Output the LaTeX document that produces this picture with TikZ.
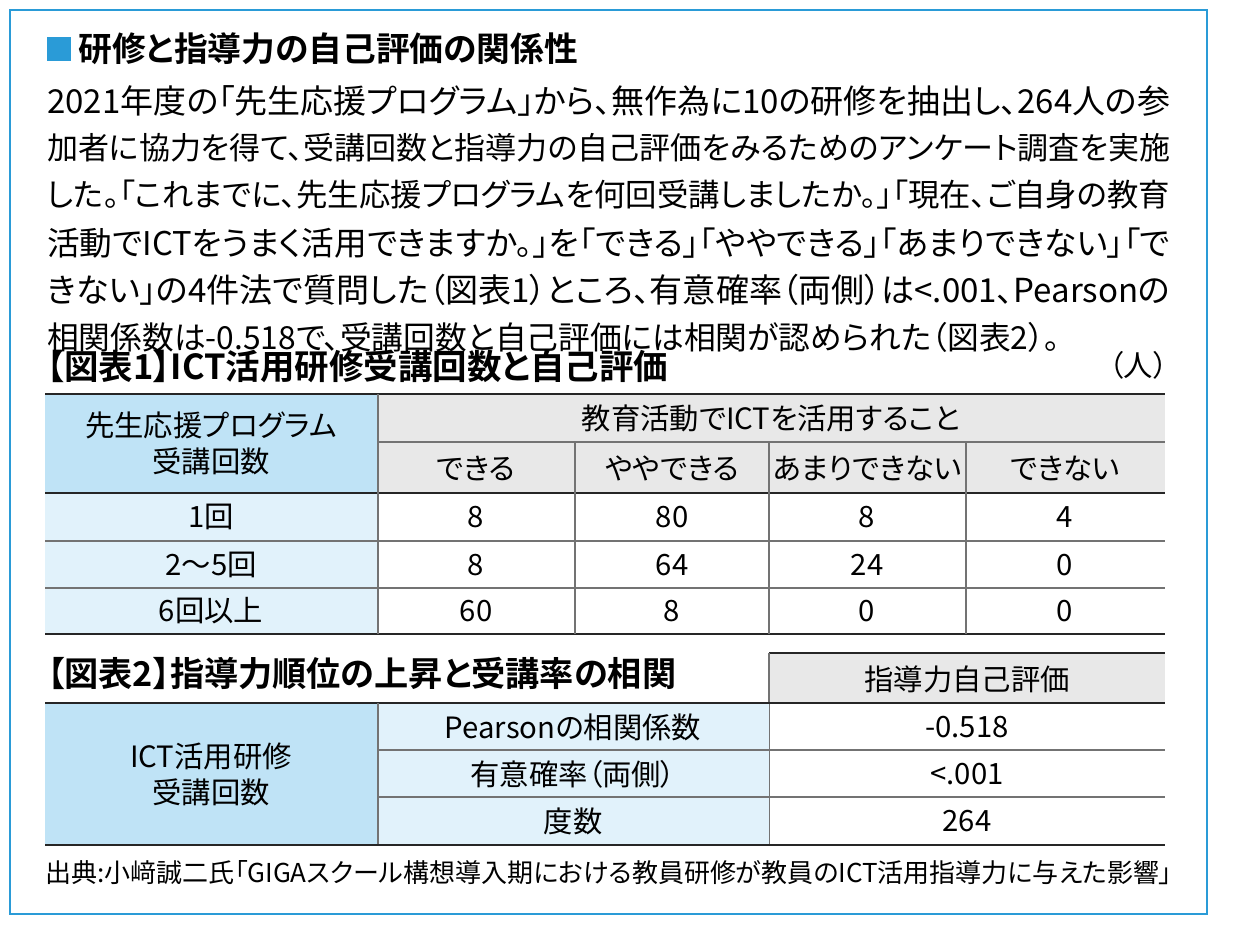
\documentclass[tikz,border=0pt]{standalone}
\usepackage{graphicx}
\usepackage{fontspec}
\setmainfont{Noto Sans CJK JP}[RawFeature=+palt]
\newfontfamily\jpb{Noto Sans CJK JP Bold}[RawFeature=+palt]
\definecolor{frame}{HTML}{2A9BD7}
\definecolor{hdblue}{HTML}{BFE3F6}
\definecolor{ltblue}{HTML}{E1F2FB}
\definecolor{hdgray}{HTML}{E8E8E8}
\newlength{\fitlen}
\newcommand{\fitw}[2]{\setlength{\fitlen}{#1pt}\setlength{\fitlen}{0.75\fitlen}\resizebox{\fitlen}{!}{#2}}
\begin{document}
\begin{tikzpicture}[x=0.75pt,y=-0.75pt,
  body/.style={anchor=west,inner sep=0,font=\fontsize{24}{28}\selectfont},
  cell/.style={inner sep=0,font=\fontsize{22}{27}\selectfont,align=center},
  ttl/.style={anchor=west,inner sep=0,font=\jpb\fontsize{23}{28}\selectfont},
  thin/.style={draw=black!55,line width=0.8pt},
  thick/.style={draw=black!85,line width=1.6pt}]
\useasboundingbox (0,0) rectangle (1247,936);
\draw[frame,line width=1.2pt] (10,10) rectangle (1207,914);
\fill[frame] (47,37) rectangle (71,61);
\node[ttl] (t0) at (78,49) {\fitw{500}{研修と指導力の自己評価の関係性}};
\node[body] (l1) at (47,101) {\fitw{1123}{2021年度の「先生応援プログラム」から、無作為に10の研修を抽出し、264人の参}};
\node[body] (l2) at (47,148) {\fitw{1123}{加者に協力を得て、受講回数と指導力の自己評価をみるためのアンケート調査を実施}};
\node[body] (l3) at (47,195) {\fitw{1123}{した。「これまでに、先生応援プログラムを何回受講しましたか。」「現在、ご自身の教育}};
\node[body] (l4) at (47,243) {\fitw{1123}{活動でICTをうまく活用できますか。」を「できる」「ややできる」「あまりできない」「で}};
\node[body] (l5) at (47,290) {\fitw{1123}{きない」の4件法で質問した（図表1）ところ、有意確率（両側）は<.001、Pearsonの}};
\node[body] (l6) at (47,337) {\fitw{1013}{相関係数は-0.518で、受講回数と自己評価には相関が認められた（図表2）。}};
\node[ttl] (t1) at (47,366) {\fitw{621}{【図表1】ICT活用研修受講回数と自己評価}};
\node[cell,anchor=east] (unit) at (1168,365) {（人）};
% table 1 fills
\fill[hdblue] (45,394) rectangle (378,493);
\fill[ltblue] (45,493) rectangle (378,634);
\fill[hdgray] (378,394) rectangle (1165,493);
\draw[thin] (378,442) -- (1165,442);
\foreach \y in {541,588}{\draw[thin] (45,\y) -- (1165,\y);}
\draw[thick] (45,394) -- (1165,394);
\draw[thick] (45,493) -- (1165,493);
\draw[thick] (45,634) -- (1165,634);
\draw[thin] (378,394) -- (378,634);
\foreach \x in {575,769,966}{\draw[thin] (\x,442) -- (\x,634);}
\node[cell] (h0) at (211,443) {先生応援プログラム\\受講回数};
\node[cell] (h1) at (771,418) {教育活動でICTを活用すること};
\node[cell] (c1) at (476,468) {できる};
\node[cell] (c2) at (672,468) {ややできる};
\node[cell] (c3) at (867,468) {あまりできない};
\node[cell] (c4) at (1065,468) {できない};
\foreach \r/\y/\a/\b/\c/\d/\e in {1/517/1回/8/80/8/4,2/565/2〜5回/8/64/24/0,3/611/6回以上/60/8/0/0}{
  \node[cell] (r\r a) at (211,\y) {\a};
  \node[cell] (r\r b) at (476,\y) {\b};
  \node[cell] (r\r c) at (672,\y) {\c};
  \node[cell] (r\r d) at (867,\y) {\d};
  \node[cell] (r\r e) at (1065,\y) {\e};
}
% table 2
\node[ttl] (t2) at (47,673) {\fitw{629}{【図表2】指導力順位の上昇と受講率の相関}};
\fill[hdgray] (769,653) rectangle (1165,703);
\draw[thick] (769,653) -- (1165,653);
\draw[thin] (769,653) -- (769,845);
\fill[hdblue] (45,703) rectangle (378,845);
\fill[ltblue] (378,703) rectangle (769,845);
\draw[thick] (45,703) -- (1165,703);
\draw[thin] (378,750) -- (1165,750);
\draw[thin] (378,797) -- (1165,797);
\draw[thin] (378,703) -- (378,845);
\draw[thick] (45,845) -- (1165,845);
\node[cell] (g0) at (967,679) {指導力自己評価};
\node[cell] (g1) at (211,774) {ICT活用研修\\受講回数};
\node[cell] (g2) at (573,727) {Pearsonの相関係数};
\node[cell] (g3) at (573,774) {有意確率（両側）};
\node[cell] (g4) at (573,821) {度数};
\node[cell] (v1) at (967,727) {-0.518};
\node[cell] (v2) at (967,774) {<.001};
\node[cell] (v3) at (967,821) {264};
\node[anchor=west,inner sep=0,font=\fontsize{17}{20}\selectfont] (src) at (45,873) {\fitw{1127}{出典:小﨑誠二氏「GIGAスクール構想導入期における教員研修が教員のICT活用指導力に与えた影響」}};
\end{tikzpicture}
\end{document}
